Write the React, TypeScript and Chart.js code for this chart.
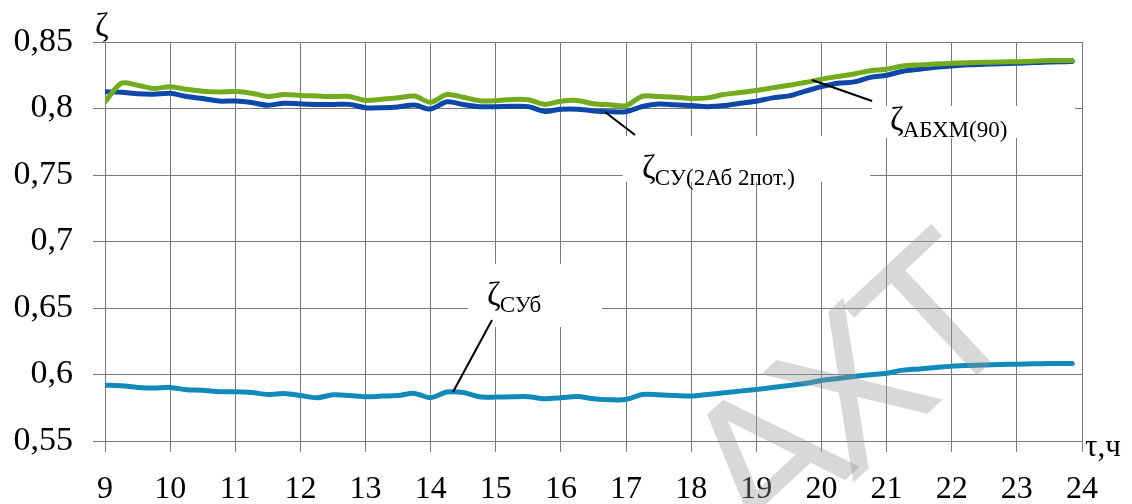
import React, { useEffect, useRef } from "react";
import { Chart, registerables } from "chart.js";

Chart.register(...registerables);

const hours = [
  9, 9.25, 9.5, 9.75, 10, 10.25, 10.5, 10.75, 11, 11.25, 11.5, 11.75, 12, 12.25, 12.5, 12.75,
  13, 13.25, 13.5, 13.75, 14, 14.25, 14.5, 14.75, 15, 15.25, 15.5, 15.75, 16, 16.25, 16.5, 16.75,
  17, 17.25, 17.5, 17.75, 18, 18.25, 18.5, 18.75, 19, 19.25, 19.5, 19.75, 20, 20.25, 20.5, 20.75,
  21, 21.25, 21.5, 21.75, 22, 22.25, 22.5, 22.75, 23, 23.25, 23.5, 23.75, 23.85,
];

const zetaABXM = [
  0.805, 0.819, 0.8175, 0.815, 0.8164, 0.8145, 0.813, 0.8125, 0.8127, 0.8115, 0.809, 0.8105, 0.8098, 0.8094, 0.809, 0.809,
  0.806, 0.807, 0.808, 0.8094, 0.8047, 0.8105, 0.8085, 0.8059, 0.8059, 0.8068, 0.8066, 0.8031, 0.8055, 0.806, 0.8036, 0.8028,
  0.8022, 0.8092, 0.809, 0.8085, 0.8075, 0.808, 0.8105, 0.812, 0.8135, 0.8155, 0.8175, 0.8195, 0.822, 0.824, 0.826, 0.8284,
  0.8295, 0.832, 0.8328, 0.8334, 0.834, 0.8344, 0.8347, 0.835, 0.8352, 0.8356, 0.836, 0.836, 0.836,
];

const zetaSU2 = [
  0.8126, 0.8122, 0.811, 0.8107, 0.8114, 0.809, 0.8075, 0.8056, 0.8056, 0.8045, 0.8025, 0.804, 0.8035, 0.8031, 0.8031, 0.8031,
  0.8006, 0.8006, 0.8012, 0.8026, 0.7996, 0.805, 0.803, 0.8014, 0.8014, 0.8016, 0.8014, 0.7978, 0.7994, 0.7995, 0.7982, 0.7976,
  0.7976, 0.8015, 0.8034, 0.8028, 0.8022, 0.8014, 0.8022, 0.804, 0.8055, 0.808, 0.8095, 0.813, 0.8164, 0.819, 0.82, 0.8234,
  0.825, 0.828, 0.8295, 0.831, 0.832, 0.8328, 0.8332, 0.8336, 0.834, 0.8345, 0.835, 0.8352, 0.8353,
];

const zetaSUb = [
  0.592, 0.5915, 0.5903, 0.5898, 0.5903, 0.5885, 0.5882, 0.587, 0.587, 0.5865, 0.585, 0.5858, 0.5842, 0.5825, 0.5847, 0.5842,
  0.5832, 0.5838, 0.5842, 0.5858, 0.5826, 0.5868, 0.5865, 0.5833, 0.583, 0.5832, 0.5833, 0.5818, 0.5825, 0.5835, 0.5818, 0.581,
  0.5812, 0.585, 0.5848, 0.5842, 0.5838, 0.585, 0.5862, 0.5875, 0.5888, 0.5902, 0.5918, 0.5932, 0.5955, 0.597, 0.5985, 0.5998,
  0.601, 0.6033, 0.6042, 0.6052, 0.6063, 0.6068, 0.6072, 0.6075, 0.6078, 0.608, 0.6082, 0.6082, 0.6082,
];

const xTicks = ["9", "10", "11", "12", "13", "14", "15", "16", "17", "18", "19", "20", "21", "22", "23", "24"];
const yTickLabels = ["0,55", "0,6", "0,65", "0,7", "0,75", "0,8", "0,85"];

const yTitle = "ζ";
const xTitle = "τ,ч";

// annotation labels (positions in data units)
const annotations = [
  { sub: "СУ(2Аб 2пот.)", box: [16.95, 0.7793, 20.746, 0.7447], text: [17.245, 0.7425], lead: [16.677, 0.7974, 17.138, 0.7801] },
  { sub: "АБХМ(90)", box: [20.777, 0.8019, 23.893, 0.7778], text: [21.053, 0.7786], lead: [19.855, 0.8214, 20.777, 0.8056] },
  { sub: "СУб", box: [14.573, 0.6831, 16.631, 0.6357], text: [14.865, 0.647], lead: [14.343, 0.5868, 14.942, 0.641] },
];

const watermark = { letters: ["А", "Х", "Т"], centers: [[772, 468], [858, 398], [944, 326]], angle: -43 };

const SERIF = "'Liberation Serif', 'Times New Roman', serif";

const annotPlugin = {
  id: "annot",
  beforeDatasetsDraw(chart: any) {
    const { ctx, scales } = chart;
    const xs = scales.x, ys = scales.y;
    ctx.save();
    ctx.fillStyle = "#ffffff";
    for (const a of annotations) {
      const x1 = xs.getPixelForValue(a.box[0]);
      const y1 = ys.getPixelForValue(a.box[1]);
      const x2 = xs.getPixelForValue(a.box[2]);
      const y2 = ys.getPixelForValue(a.box[3]);
      ctx.fillRect(x1, y1, x2 - x1, y2 - y1);
    }
    ctx.restore();
  },
  afterDatasetsDraw(chart: any) {
    const { ctx, scales, chartArea } = chart;
    const xs = scales.x, ys = scales.y;
    ctx.save();
    ctx.strokeStyle = "#000";
    ctx.lineWidth = 2;
    ctx.fillStyle = "#000";
    ctx.textBaseline = "alphabetic";
    ctx.textAlign = "left";
    for (const a of annotations) {
      ctx.beginPath();
      ctx.moveTo(xs.getPixelForValue(a.lead[0]), ys.getPixelForValue(a.lead[1]));
      ctx.lineTo(xs.getPixelForValue(a.lead[2]), ys.getPixelForValue(a.lead[3]));
      ctx.stroke();
      const tx = xs.getPixelForValue(a.text[0]);
      const ty = ys.getPixelForValue(a.text[1]);
      ctx.font = `33px ${SERIF}`;
      ctx.fillText("ζ", tx, ty - 7);
      const w = ctx.measureText("ζ").width;
      ctx.font = `23px ${SERIF}`;
      ctx.fillText(a.sub, tx + w - 1, ty);
    }
    // axis titles
    ctx.font = `33px ${SERIF}`;
    ctx.fillText(yTitle, chartArea.left - 10, chartArea.top - 6);
    ctx.font = `31px ${SERIF}`;
    ctx.fillText(xTitle, chartArea.right + 3, chartArea.bottom + 15);
    ctx.restore();
  },
  afterDraw(chart: any) {
    const { ctx } = chart;
    ctx.save();
    ctx.fillStyle = "rgba(150,150,150,0.37)";
    ctx.font = `195px 'DejaVu Sans', sans-serif`;
    ctx.textAlign = "center";
    ctx.textBaseline = "middle";
    watermark.letters.forEach((l, i) => {
      const [cx, cy] = watermark.centers[i];
      ctx.save();
      ctx.translate(cx, cy);
      ctx.rotate((watermark.angle * Math.PI) / 180);
      ctx.fillText(l, 0, 8);
      ctx.restore();
    });
    ctx.restore();
  },
};

export default function App() {
  const ref = useRef<HTMLCanvasElement>(null);
  useEffect(() => {
    if (!ref.current) return;
    const mk = (arr: number[]) => hours.map((h, i) => ({ x: h, y: arr[i] }));
    const chart = new Chart(ref.current, {
      type: "line",
      data: {
        datasets: [
          { label: "ζАБХМ(90)", data: mk(zetaABXM), borderColor: "#72AC1E", borderWidth: 5, pointRadius: 0, tension: 0.3, borderCapStyle: "round", borderJoinStyle: "round" },
          { label: "ζСУ(2Аб 2пот.)", data: mk(zetaSU2), borderColor: "#0D48A8", borderWidth: 5, pointRadius: 0, tension: 0.3, borderCapStyle: "round", borderJoinStyle: "round" },
          { label: "ζСУб", data: mk(zetaSUb), borderColor: "#1189BB", borderWidth: 5, pointRadius: 0, tension: 0.3, borderCapStyle: "round", borderJoinStyle: "round" },
        ],
      },
      options: {
        responsive: false,
        animation: false,
        events: [],
        layout: { padding: { top: 42, right: 50, left: 0, bottom: 0 } },
        plugins: { legend: { display: false }, tooltip: { enabled: false } },
        scales: {
          x: {
            type: "linear",
            min: 9,
            max: 24,
            afterFit: (s: any) => { s.height = 63; },
            afterBuildTicks: (s: any) => { s.ticks = xTicks.map((t) => ({ value: Number(t) })); },
            ticks: {
              callback: (_v: any, i: number) => xTicks[i],
              font: { family: SERIF, size: 32 },
              color: "#000",
              padding: 18,
              maxRotation: 0,
              autoSkip: false,
            },
            grid: { color: "#7a7a7a", lineWidth: 1, tickLength: 11 },
            border: { color: "#7a7a7a" },
          },
          y: {
            min: 0.55,
            max: 0.85,
            afterFit: (s: any) => { s.width = 105; },
            afterBuildTicks: (s: any) => { s.ticks = yTickLabels.map((t) => ({ value: Number(t.replace(",", ".")) })); },
            ticks: {
              callback: (_v: any, i: number) => yTickLabels[i],
              font: { family: SERIF, size: 34 },
              color: "#000",
              padding: 20,
            },
            grid: { color: "#7a7a7a", lineWidth: 1, tickLength: 12 },
            border: { color: "#7a7a7a" },
          },
        },
      },
      plugins: [annotPlugin],
    } as any);
    return () => chart.destroy();
  }, []);
  return (
    <div style={{ position: "fixed", left: 0, top: 0, width: 1132, height: 504, background: "#fff" }}>
      <canvas ref={ref} width={1132} height={504} />
    </div>
  );
}
